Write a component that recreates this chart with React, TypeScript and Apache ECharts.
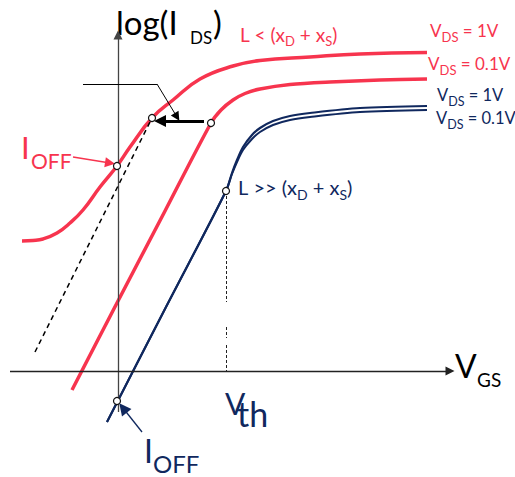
import React, { useEffect, useRef } from "react";
import * as echarts from "echarts";

const RED = "#f7344e";
const NAVY = "#10285e";
const FONT = "Lato, 'Noto Sans', sans-serif";

// x: V_GS, y: log(I_DS) (arbitrary units, origin where the axes cross)
const redHigh: number[][] = [
  [-9.6, 13.0], [-8.5, 13.05], [-7.5, 13.2], [-6.1, 13.8], [-4.8, 14.8], [-3.5, 16.1],
  [-1.8, 18.4], [-0.1, 20.5], [1.2, 22.4], [3.4, 25.3], [5.5, 27.1], [8.2, 29.2],
  [11.5, 30.5], [14.2, 31.05], [19.2, 31.4], [24.2, 31.7], [30.9, 31.85],
];
const redLow: number[][] = [
  [-4.6, -1.9], [0, 7.0], [4.7, 16.0], [9.3, 24.8], [10.3, 26.1], [11.5, 27.1],
  [12.7, 27.75], [14.2, 28.2], [17.2, 28.65], [21.2, 28.9], [26.2, 29.1], [30.9, 29.2],
];
const navyHigh: number[][] = [
  [-1.1, -5.1], [4.8, 6.4], [10.8, 18.0], [11.4, 19.8], [11.9, 21.1], [12.5, 22.4],
  [13.4, 23.6], [14.2, 24.3], [15.5, 25.0], [17.2, 25.5], [19.2, 25.8], [24.2, 26.3], [30.9, 26.5],
];
const navyLow: number[][] = [
  [-1.1, -5.1], [4.8, 6.4], [10.8, 18.0], [11.4, 19.7], [11.9, 20.9], [12.5, 22.1],
  [13.4, 23.2], [14.2, 23.9], [15.5, 24.6], [17.2, 25.1], [19.2, 25.4], [24.2, 25.9], [30.9, 26.1],
];
const tangent: number[][] = [[-8.3, 1.9], [3.4, 25.3]];
const vthMarks: number[][][] = [
  [[10.8, 18.0], [10.8, 6.9]],
  [[10.8, 4.4], [10.8, 3.3]],
  [[10.8, 2.6], [10.8, 0]],
];
const markers: number[][] = [[-0.1, 20.5], [3.4, 25.3], [9.3, 24.8], [10.8, 18.0], [-0.1, -3.0]];
const xAxisLine: number[][] = [[-10.8, 0], [33.2, 0]];
const yAxisLine: number[][] = [[0, -4.1], [0, 33.6]];
const shiftArrow: number[][] = [[8.6, 25.0], [4.2, 25.0]];
const leaderH: number[][] = [[-3.5, 28.7], [3.9, 28.7]];
const leaderD: number[][] = [[3.9, 28.7], [5.9, 25.4]];
const ioffRedArrow: number[][] = [[-4.5, 21.4], [-0.8, 20.8]];
const ioffNavyArrow: number[][] = [[2.4, -6.1], [0.5, -3.7]];

const curve = (data: number[][], color: string, width: number, smooth = 0.3) => ({
  type: "line",
  data,
  smooth,
  symbol: "none",
  lineStyle: { color, width },
  z: 3,
  silent: true,
});

const seg = (
  segments: number[][][],
  color: string,
  width: number,
  arrow: boolean,
  size: number[] | number = 8,
  type: any = "solid"
) => ({
  type: "lines",
  coordinateSystem: "cartesian2d",
  data: segments.map((coords) => ({ coords })),
  symbol: arrow ? ["none", "triangle"] : ["none", "none"],
  symbolSize: size,
  lineStyle: { color, width, type, opacity: 1, curveness: 0 },
  itemStyle: { color },
  z: 4,
  silent: true,
});

const T = (x: number, y: number, text: string, fontSize: number, fill: string) => ({
  type: "text",
  x,
  y,
  silent: true,
  style: {
    text,
    fill,
    fontSize,
    fontFamily: FONT,
    align: "left",
    verticalAlign: "middle",
    textAlign: "left",
    textVerticalAlign: "middle",
  },
});

const R = (x: number, y: number, text: string, main: number, sub: number, shift: number, fill: string) => ({
  type: "text",
  x,
  y,
  silent: true,
  style: {
    text,
    fill,
    fontSize: main,
    fontFamily: FONT,
    align: "left",
    verticalAlign: "middle",
    textAlign: "left",
    textVerticalAlign: "middle",
    rich: {
      m: { fontSize: main, fill, fontFamily: FONT },
      s: { fontSize: sub, fill, fontFamily: FONT, padding: [shift * 2, 0, 0, 0] },
    },
  },
});

const vdsHigh = "{m|V}{s|DS}{m| }{m|= 1V}";
const vdsLow = "{m|V}{s|DS}{m| }{m|= 0.1V}";
const shortLabel = "{m|L}{m| }{m|< (x}{s|D}{m| }{m|+ x}{s|S}{m|)}";
const longLabel = "{m|L}{m| }{m|>> (x}{s|D}{m| }{m|+ x}{s|S}{m|)}";

export default function App() {
  const ref = useRef<HTMLDivElement>(null);
  useEffect(() => {
    if (!ref.current) return;
    const chart = echarts.init(ref.current, null, { renderer: "svg" });
    chart.setOption({
      animation: false,
      backgroundColor: "#ffffff",
      grid: { left: 0, top: 0, width: 515, height: 477, containLabel: false },
      xAxis: { type: "value", min: -11.8, max: 39.7, show: false },
      yAxis: { type: "value", min: -10.6, max: 37.1, show: false },
      series: [
        seg([yAxisLine], "#444444", 1.3, true, [7, 9]),
        seg([xAxisLine], "#222222", 1.3, true, [7, 9]),
        curve(redHigh, RED, 3.5, 0.45),
        curve(redLow, RED, 3.5),
        curve(navyHigh, NAVY, 2.2),
        curve(navyLow, NAVY, 2.0),
        seg([tangent], "#000000", 1.5, false, 8, [5, 4]),
        seg(vthMarks, "#222222", 1, false, 8, [3, 2]),
        seg([leaderH], "#000000", 1, false),
        seg([leaderD], "#000000", 1, true, [6, 9]),
        seg([shiftArrow], "#000000", 3, true, [9, 12]),
        seg([ioffRedArrow], RED, 1.3, true, [7, 10]),
        seg([ioffNavyArrow], NAVY, 1.3, true, [9, 12]),
        {
          type: "scatter",
          data: markers,
          symbol: "circle",
          symbolSize: 7,
          itemStyle: { color: "#ffffff", borderColor: "#111111", borderWidth: 1.2, opacity: 1 },
          z: 10,
          silent: true,
        },
      ],
      graphic: {
        elements: [
          T(116, 22.2, "log(I", 33, "#000000"),
          T(190, 37.5, "DS", 17, "#000000"),
          T(213, 22.2, ")", 33, "#000000"),
          T(21, 147, "I", 31, RED),
          T(31, 160, "OFF", 21, RED),
          T(144, 450.6, "I", 32, NAVY),
          T(153, 463.3, "OFF", 24, NAVY),
          T(225, 403.4, "V", 30, NAVY),
          T(237, 413.8, "th", 34, NAVY),
          T(455, 365.6, "V", 32, "#000000"),
          T(477, 379.4, "GS", 19, "#000000"),
          R(430, 30.1, vdsHigh, 17, 13, 6.6, RED),
          R(428, 63.4, vdsLow, 17, 13, 6.6, RED),
          R(437, 95.1, vdsHigh, 16.5, 12.5, 6.4, NAVY),
          R(436, 118.4, vdsLow, 16.5, 12.5, 6.4, NAVY),
          R(240, 34.3, shortLabel, 19, 13, 7, RED),
          R(238, 187.3, longLabel, 20, 14, 7, NAVY),
        ],
      },
    });
    return () => chart.dispose();
  }, []);
  return (
    <div
      ref={ref}
      style={{ position: "fixed", left: 0, top: 0, width: 515, height: 477, background: "#fff" }}
    />
  );
}
